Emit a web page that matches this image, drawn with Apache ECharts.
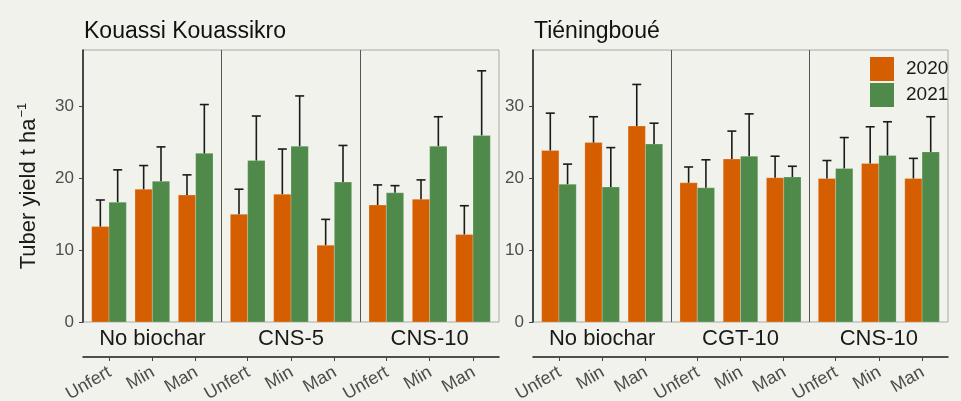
<!DOCTYPE html>
<html>
<head>
<meta charset="utf-8">
<script src="https://cdn.jsdelivr.net/npm/echarts@6/dist/echarts.min.js"></script>
<style>
  html, body { margin: 0; padding: 0; background: #F2F2EC; }
  #chart { width: 961px; height: 401px; }
</style>
</head>
<body>
<div id="chart"></div>
<script>
// 数据
const treatments = ['Unfert', 'Min', 'Man'];
const facetsKK = ['No biochar', 'CNS-5', 'CNS-10'];
const facetsTI = ['No biochar', 'CGT-10', 'CNS-10'];

// Kouassi Kouassikro：均值与误差上限
const kk2020 = [13.3, 18.5, 17.7, 15.0, 17.8, 10.7, 16.3, 17.1, 12.2];
const kk2020Err = [17.0, 21.8, 20.5, 18.5, 24.1, 14.3, 19.1, 19.8, 16.2];
const kk2021 = [16.7, 19.6, 23.5, 22.5, 24.5, 19.5, 18.0, 24.5, 26.0];
const kk2021Err = [21.2, 24.4, 30.3, 28.7, 31.5, 24.6, 19.0, 28.6, 35.0];

// Tiéningboué
const ti2020 = [23.9, 25.0, 27.3, 19.4, 22.7, 20.1, 20.0, 22.1, 20.0];
const ti2020Err = [29.1, 28.6, 33.1, 21.6, 26.6, 23.1, 22.5, 27.2, 22.8];
const ti2021 = [19.2, 18.8, 24.8, 18.7, 23.1, 20.2, 21.4, 23.2, 23.7];
const ti2021Err = [22.0, 24.3, 27.7, 22.6, 29.0, 21.7, 25.7, 27.9, 28.6];

const yTicks = [0, 10, 20, 30];

const FONT = 'Liberation Sans, Arial, sans-serif';
const C2020 = '#D55E00';
const C2021 = '#4F8A4B';

// 分面位置：每个分面占 3.2 个单位（ggplot 离散轴扩展 0.6）
const xPos = [];
for (let k = 0; k < 3; k++) {
    for (let j = 0; j < 3; j++) xPos.push(k * 3.2 + j + 1);
}
// 标签锚点稍微右移，模拟 ggplot 的旋转对齐
const LABEL_SHIFT = 0.02;
const labelPos = xPos.map(x => x + LABEL_SHIFT);
function labelFor(v) {
    let best = 0;
    labelPos.forEach((p, i) => { if (Math.abs(p - v) < Math.abs(labelPos[best] - v)) best = i; });
    return treatments[best % 3];
}

function makeData(vals, errs) {
    return vals.map((v, i) => [xPos[i], v, errs[i]]);
}

function barRenderer(offset) {
    return function (params, api) {
        const x = api.value(0) + offset;
        const v = api.value(1);
        const e = api.value(2);
        const p0 = api.coord([x, 0]);
        const p1 = api.coord([x + 0.4, v]);
        const c = api.coord([x + 0.2, v]);
        const t = api.coord([x + 0.2, e]);
        return {
            type: 'group',
            children: [
                {
                    type: 'rect',
                    shape: { x: p0[0], y: p1[1], width: p1[0] - p0[0], height: p0[1] - p1[1] },
                    style: { fill: api.visual('color'), stroke: 'rgba(255,255,255,0.35)', lineWidth: 0.6 }
                },
                {
                    type: 'line',
                    shape: { x1: c[0], y1: c[1], x2: t[0], y2: t[1] },
                    style: { stroke: '#1a1a1a', lineWidth: 1.6 }
                },
                {
                    type: 'line',
                    shape: { x1: t[0] - 4.5, y1: t[1], x2: t[0] + 4.5, y2: t[1] },
                    style: { stroke: '#1a1a1a', lineWidth: 1.6 }
                }
            ]
        };
    };
}

function xAxes(gridIndex, facets) {
    return [
        {
            type: 'value', gridIndex: gridIndex, min: 0.4, max: 10.0,
            position: 'bottom', offset: 35,
            axisLine: { show: true, onZero: false, lineStyle: { color: '#1a1a1a', width: 1.5 } },
            axisTick: { show: true, customValues: xPos, length: 4, lineStyle: { color: '#444', width: 1 } },
            axisLabel: {
                customValues: labelPos, rotate: 30, margin: 14,
                fontSize: 18, color: '#4D4D4D', fontFamily: FONT,
                formatter: v => labelFor(Number(v))
            },
            splitLine: { show: false }
        },
        {
            type: 'category', gridIndex: gridIndex, data: facets,
            position: 'bottom', offset: 0,
            axisLine: { show: false, onZero: false }, axisTick: { show: false },
            axisLabel: { margin: 6, fontSize: 22, color: '#1a1a1a', fontFamily: FONT, interval: 0 },
            splitLine: { show: false }
        }
    ];
}

function yAxis(gridIndex, withName) {
    const ax = {
        type: 'value', gridIndex: gridIndex, min: 0, max: 37.9,
        axisLine: { show: true, onZero: false, lineStyle: { color: '#1a1a1a', width: 1.5 } },
        axisTick: { show: true, customValues: yTicks, length: 4, lineStyle: { color: '#444' } },
        axisLabel: {
            customValues: yTicks, margin: 9, fontSize: 17, color: '#4D4D4D', fontFamily: FONT
        },
        splitLine: { show: false }
    };
    if (withName) {
        ax.name = '{a|Tuber yield t ha}{b|−1}';
        ax.nameLocation = 'middle';
        ax.nameGap = 42;
        ax.nameTextStyle = {
            fontFamily: FONT, color: '#1a1a1a',
            rich: {
                a: { fontSize: 22, fontFamily: FONT, color: '#1a1a1a' },
                b: { fontSize: 13, fontFamily: FONT, color: '#1a1a1a', padding: [0, 0, 12, 1] }
            }
        };
    }
    return ax;
}

const dividers = {
    silent: true, symbol: 'none', label: { show: false },
    lineStyle: { color: '#555', width: 1, type: 'solid' },
    data: [{ xAxis: 3.6 }, { xAxis: 6.8 }]
};

const gridBase = {
    top: 50, bottom: 79, show: true, borderColor: '#A8A8A8', borderWidth: 1,
    backgroundColor: 'transparent', containLabel: false, outerBoundsMode: 'none'
};

const chart = echarts.init(document.getElementById('chart'));
chart.setOption({
    backgroundColor: '#F2F2EC',
    animation: false,
    textStyle: { fontFamily: FONT },
    title: [
        { text: 'Kouassi Kouassikro', left: 79, top: 15, textStyle: { fontSize: 23, fontWeight: 'normal', color: '#111', fontFamily: FONT } },
        { text: 'Tiéningboué', left: 529, top: 15, textStyle: { fontSize: 23, fontWeight: 'normal', color: '#111', fontFamily: FONT } }
    ],
    legend: {
        data: ['2020', '2021'],
        orient: 'vertical', left: 865, top: 52,
        itemWidth: 24, itemHeight: 24, itemGap: 2,
        icon: 'rect',
        textStyle: { fontSize: 19, color: '#1a1a1a', fontFamily: FONT, padding: [0, 0, 0, 7] }
    },
    grid: [
        { ...gridBase, left: 83, right: 462 },
        { ...gridBase, left: 533, right: 13 }
    ],
    xAxis: [...xAxes(0, facetsKK), ...xAxes(1, facetsTI)],
    yAxis: [yAxis(0, true), yAxis(1, false)],
    series: [
        {
            name: '2020', type: 'custom', xAxisIndex: 0, yAxisIndex: 0,
            itemStyle: { color: C2020 }, renderItem: barRenderer(-0.4),
            data: makeData(kk2020, kk2020Err), markLine: dividers
        },
        {
            name: '2021', type: 'custom', xAxisIndex: 0, yAxisIndex: 0,
            itemStyle: { color: C2021 }, renderItem: barRenderer(0),
            data: makeData(kk2021, kk2021Err)
        },
        {
            name: '2020', type: 'custom', xAxisIndex: 2, yAxisIndex: 1,
            itemStyle: { color: C2020 }, renderItem: barRenderer(-0.4),
            data: makeData(ti2020, ti2020Err), markLine: dividers
        },
        {
            name: '2021', type: 'custom', xAxisIndex: 2, yAxisIndex: 1,
            itemStyle: { color: C2021 }, renderItem: barRenderer(0),
            data: makeData(ti2021, ti2021Err)
        }
    ]
});
</script>
</body>
</html>
